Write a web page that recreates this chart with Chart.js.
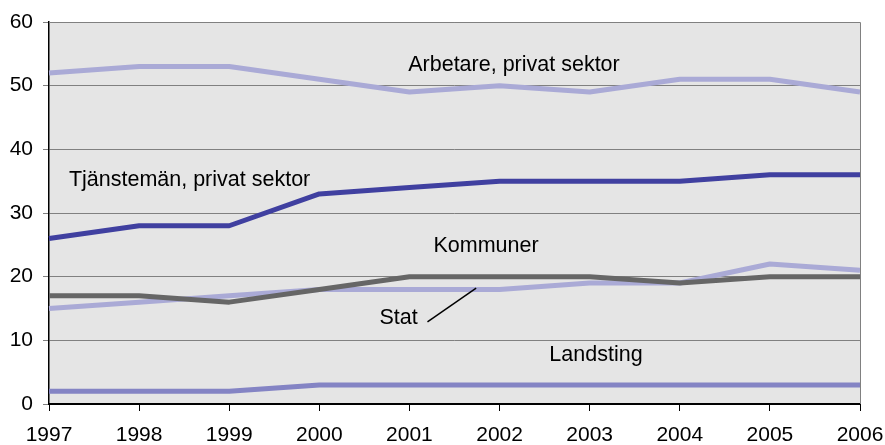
<!DOCTYPE html>
<html><head><meta charset="utf-8">
<script src="https://cdn.jsdelivr.net/npm/chart.js@4"></script>
<style>html,body{margin:0;padding:0;background:#fff}#wrap{width:885px;height:445px}</style>
</head><body><div id="wrap"><canvas id="c" width="885" height="445"></canvas></div>
<script>
const years = ["1997","1998","1999","2000","2001","2002","2003","2004","2005","2006"];
const arbetare = [52,53,53,51,49,50,49,51,51,49];
const tjansteman = [26,28,28,33,34,35,35,35,36,36];
const kommuner = [17,17,16,18,20,20,20,19,20,20];
const stat = [15,16,17,18,18,18,19,19,22,21];
const landsting = [2,2,2,3,3,3,3,3,3,3];
const yTicks = [0,10,20,30,40,50,60];

const labels = [
  {text:"Arbetare, privat sektor", x:5.16, y:53.3},
  {text:"Tjänstemän, privat sektor", x:1.56, y:35.1},
  {text:"Kommuner", x:4.85, y:24.8},
  {text:"Stat", x:3.88, y:13.5},
  {text:"Landsting", x:6.07, y:7.7}
];
const leader = {x1:4.20, y1:12.9, x2:4.74, y2:18.2};

const FONT = '"Liberation Sans", Arial, sans-serif';

const bgPlugin = {
  id:'bg',
  beforeDraw(chart){
    const {ctx, chartArea:a} = chart;
    ctx.save();
    ctx.fillStyle = '#e5e5e5';
    ctx.fillRect(a.left, a.top, a.right-a.left, a.bottom-a.top);
    ctx.restore();
  },
  afterDatasetsDraw(chart){
    const {ctx, chartArea:a, scales} = chart;
    ctx.save();
    ctx.strokeStyle = '#808080'; ctx.lineWidth = 1;
    ctx.beginPath();
    ctx.moveTo(a.left, a.top+0.5); ctx.lineTo(a.right+0.5, a.top+0.5); ctx.lineTo(a.right+0.5, a.bottom);
    ctx.stroke();
    ctx.fillStyle = '#000';
    ctx.font = '21.5px ' + FONT;
    ctx.textBaseline = 'middle';
    ctx.textAlign = 'center';
    labels.forEach(l=>{
      ctx.fillText(l.text, scales.x.getPixelForValue(l.x), scales.y.getPixelForValue(l.y));
    });
    ctx.strokeStyle = '#000'; ctx.lineWidth = 1.5;
    ctx.beginPath();
    ctx.moveTo(scales.x.getPixelForValue(leader.x1), scales.y.getPixelForValue(leader.y1));
    ctx.lineTo(scales.x.getPixelForValue(leader.x2), scales.y.getPixelForValue(leader.y2));
    ctx.stroke();
    ctx.restore();
  }
};

function ds(label, data, color){
  return {label, data, borderColor:color, backgroundColor:color, borderWidth:5, pointRadius:0, tension:0, fill:false, borderJoinStyle:'round'};
}

new Chart(document.getElementById('c'), {
  type:'line',
  data:{labels:years, datasets:[
    ds('Landsting', landsting, '#8484c4'),
    ds('Kommuner', kommuner, '#666666'),
    ds('Stat', stat, '#aaaad6'),
    ds('Tjänstemän, privat sektor', tjansteman, '#4040a0'),
    ds('Arbetare, privat sektor', arbetare, '#aaaad6')
  ]},
  options:{
    responsive:false, animation:false,
    layout:{padding:{left:0, right:25, top:22, bottom:0}},
    plugins:{legend:{display:false}, tooltip:{enabled:false}},
    scales:{
      x:{
        offset:false,
        grid:{drawOnChartArea:false, drawTicks:true, tickLength:7, color:'#000', lineWidth:1},
        border:{display:true, color:'#000', width:2},
        ticks:{color:'#000', font:{size:21, family:FONT}, maxRotation:0, autoSkip:false, padding:12},
        afterFit(s){ s.height = 41; s.paddingLeft = 0; s.paddingRight = 0; }
      },
      y:{
        min:0, max:60,
        afterBuildTicks(s){ s.ticks = yTicks.map(v=>({value:v})); },
        grid:{drawOnChartArea:true, drawTicks:true, tickLength:6, color:'#808080', lineWidth:1},
        border:{display:true, color:'#000', width:1.5},
        ticks:{color:'#000', font:{size:21, family:FONT}, padding:10},
        afterFit(s){ s.width = 49; s.paddingTop = 0; s.paddingBottom = 0; }
      }
    }
  },
  plugins:[bgPlugin]
});
</script></body></html>
